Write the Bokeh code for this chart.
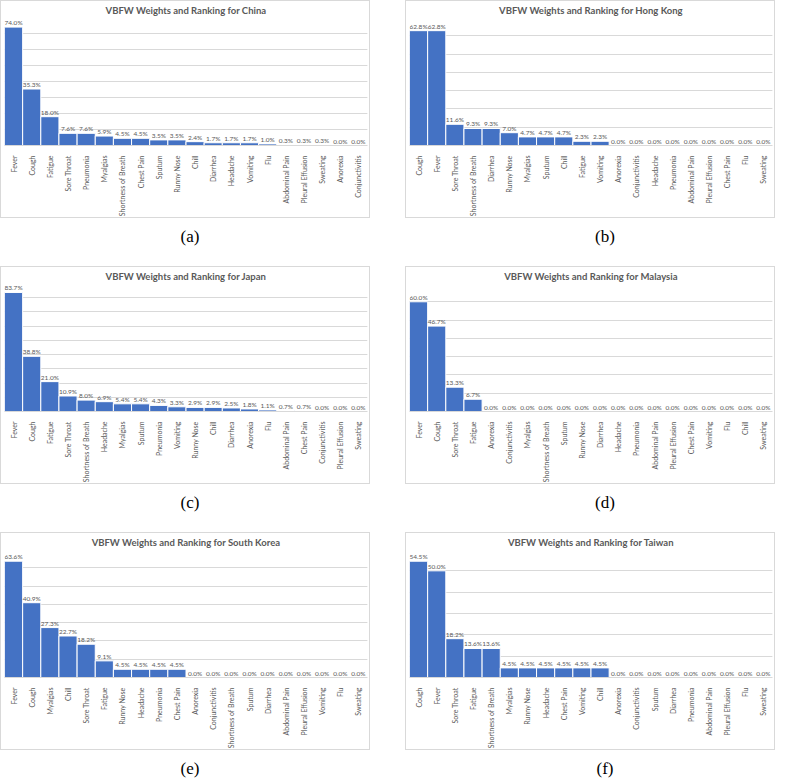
import math
from bokeh.plotting import figure
from bokeh.models import ColumnDataSource, FactorRange, Range1d, Grid, SingleIntervalTicker, Div
from bokeh.layouts import column, row
from bokeh.core.properties import value
from bokeh.embed import file_html
from bokeh.resources import INLINE

# ---------------- data ----------------
china_cats = ["Fever", "Cough", "Fatigue", "Sore Throat", "Pneumonia", "Myalgias",
              "Shortness of Breath", "Chest Pain", "Sputum", "Runny Nose", "Chill",
              "Diarrhea", "Headache", "Vomiting", "Flu", "Abdominal Pain",
              "Pleural Effusion", "Sweating", "Anorexia", "Conjunctivitis"]
china_vals = [74.0, 35.3, 18.0, 7.6, 7.6, 5.9, 4.5, 4.5, 3.5, 3.5, 2.4, 1.7, 1.7, 1.7,
              1.0, 0.3, 0.3, 0.3, 0.0, 0.0]

hk_cats = ["Cough", "Fever", "Sore Throat", "Shortness of Breath", "Diarrhea", "Runny Nose",
           "Myalgias", "Sputum", "Chill", "Fatigue", "Vomiting", "Anorexia", "Conjunctivitis",
           "Headache", "Pneumonia", "Abdominal Pain", "Pleural Effusion", "Chest Pain",
           "Flu", "Sweating"]
hk_vals = [62.8, 62.8, 11.6, 9.3, 9.3, 7.0, 4.7, 4.7, 4.7, 2.3, 2.3, 0.0, 0.0, 0.0, 0.0,
           0.0, 0.0, 0.0, 0.0, 0.0]

japan_cats = ["Fever", "Cough", "Fatigue", "Sore Throat", "Shortness of Breath", "Headache",
              "Myalgias", "Sputum", "Pneumonia", "Vomiting", "Runny Nose", "Chill",
              "Diarrhea", "Anorexia", "Flu", "Abdominal Pain", "Chest Pain",
              "Conjunctivitis", "Pleural Effusion", "Sweating"]
japan_vals = [83.7, 38.8, 21.0, 10.9, 8.0, 6.9, 5.4, 5.4, 4.3, 3.3, 2.9, 2.9, 2.5, 1.8,
              1.1, 0.7, 0.7, 0.0, 0.0, 0.0]

malaysia_cats = ["Fever", "Cough", "Sore Throat", "Fatigue", "Anorexia", "Conjunctivitis",
                 "Myalgias", "Shortness of Breath", "Sputum", "Runny Nose", "Diarrhea",
                 "Headache", "Pneumonia", "Abdominal Pain", "Pleural Effusion", "Chest Pain",
                 "Vomiting", "Flu", "Chill", "Sweating"]
malaysia_vals = [60.0, 46.7, 13.3, 6.7, 0.0, 0.0, 0.0, 0.0, 0.0, 0.0, 0.0, 0.0, 0.0, 0.0,
                 0.0, 0.0, 0.0, 0.0, 0.0, 0.0]

korea_cats = ["Fever", "Cough", "Myalgias", "Chill", "Sore Throat", "Fatigue", "Runny Nose",
              "Headache", "Pneumonia", "Chest Pain", "Anorexia", "Conjunctivitis",
              "Shortness of Breath", "Sputum", "Diarrhea", "Abdominal Pain",
              "Pleural Effusion", "Vomiting", "Flu", "Sweating"]
korea_vals = [63.6, 40.9, 27.3, 22.7, 18.2, 9.1, 4.5, 4.5, 4.5, 4.5, 0.0, 0.0, 0.0, 0.0,
              0.0, 0.0, 0.0, 0.0, 0.0, 0.0]

taiwan_cats = ["Cough", "Fever", "Sore Throat", "Fatigue", "Shortness of Breath", "Myalgias",
               "Runny Nose", "Headache", "Chest Pain", "Vomiting", "Chill", "Anorexia",
               "Conjunctivitis", "Sputum", "Diarrhea", "Pneumonia", "Abdominal Pain",
               "Pleural Effusion", "Flu", "Sweating"]
taiwan_vals = [54.5, 50.0, 18.2, 13.6, 13.6, 4.5, 4.5, 4.5, 4.5, 4.5, 4.5, 0.0, 0.0, 0.0,
               0.0, 0.0, 0.0, 0.0, 0.0, 0.0]

countries = ["China", "Hong Kong", "Japan", "Malaysia", "South Korea", "Taiwan"]
y_max = [80, 70, 90, 70, 70, 60]
captions = ["(a)", "(b)", "(c)", "(d)", "(e)", "(f)"]

# ---------------- styling ----------------
BAR = "#4472C4"
GRID = "#d9d9d9"
TXT = "#595959"
FONT = "Lato"
W, H, GAP, CAP_H = 370, 218, 35, 38


def make_panel(cats, vals, country, ymax):
    src = ColumnDataSource(dict(cat=cats, val=vals,
                                lab=["%.1f%%" % v for v in vals]))
    p = figure(x_range=FactorRange(*cats, range_padding=0),
               y_range=Range1d(0, ymax),
               width=W, height=H, output_backend="svg", toolbar_location=None,
               y_axis_location=None, title="VBFW Weights and Ranking for " + country,
               min_border_left=3, min_border_right=4, min_border_top=2,
               min_border_bottom=3)
    p.title.align = "center"
    p.title.text_font = FONT
    p.title.text_font_size = "9.5px"
    p.title.text_color = TXT
    p.title.text_font_style = "bold"
    p.title.standoff = 3
    p.outline_line_color = None
    p.xgrid.visible = False
    p.add_layout(Grid(dimension=1, ticker=SingleIntervalTicker(interval=10),
                      grid_line_color=GRID, grid_line_width=1))
    p.vbar(x="cat", top="val", width=1.0, source=src, fill_color=BAR,
           line_color="white", line_width=1)
    p.text(x="cat", y="val", text="lab", source=src, text_align="center",
           text_baseline="bottom", y_offset=-1, text_font=value(FONT),
           text_font_size="6.5px", text_color=TXT)
    ax = p.xaxis[0]
    ax.major_label_orientation = math.pi / 2
    ax.major_label_text_font = FONT
    ax.major_label_text_font_size = "7px"
    ax.major_label_text_color = TXT
    ax.major_label_standoff = 4
    ax.major_tick_line_color = None
    ax.minor_tick_line_color = None
    ax.axis_line_color = GRID
    p.styles = {"border": "1px solid #d9d9d9"}
    return p


def caption(t, h):
    return Div(text=t, width=W, height=h,
               styles={"font-family": "Liberation Serif", "font-size": "17px",
                       "text-align": "center", "line-height": "17px",
                       "padding-top": "5px", "width": "%dpx" % W})


data = [(china_cats, china_vals), (hk_cats, hk_vals), (japan_cats, japan_vals),
        (malaysia_cats, malaysia_vals), (korea_cats, korea_vals), (taiwan_cats, taiwan_vals)]
panels = [make_panel(c, v, n, m) for (c, v), n, m in zip(data, countries, y_max)]

rows = []
for i in range(3):
    rows.append(row(panels[2 * i], panels[2 * i + 1], spacing=GAP))
    ch = CAP_H if i < 2 else 26
    rows.append(row(caption(captions[2 * i], ch), caption(captions[2 * i + 1], ch), spacing=GAP))

layout = column(*rows, spacing=0)

open("out.html", "w").write(file_html(layout, INLINE))
